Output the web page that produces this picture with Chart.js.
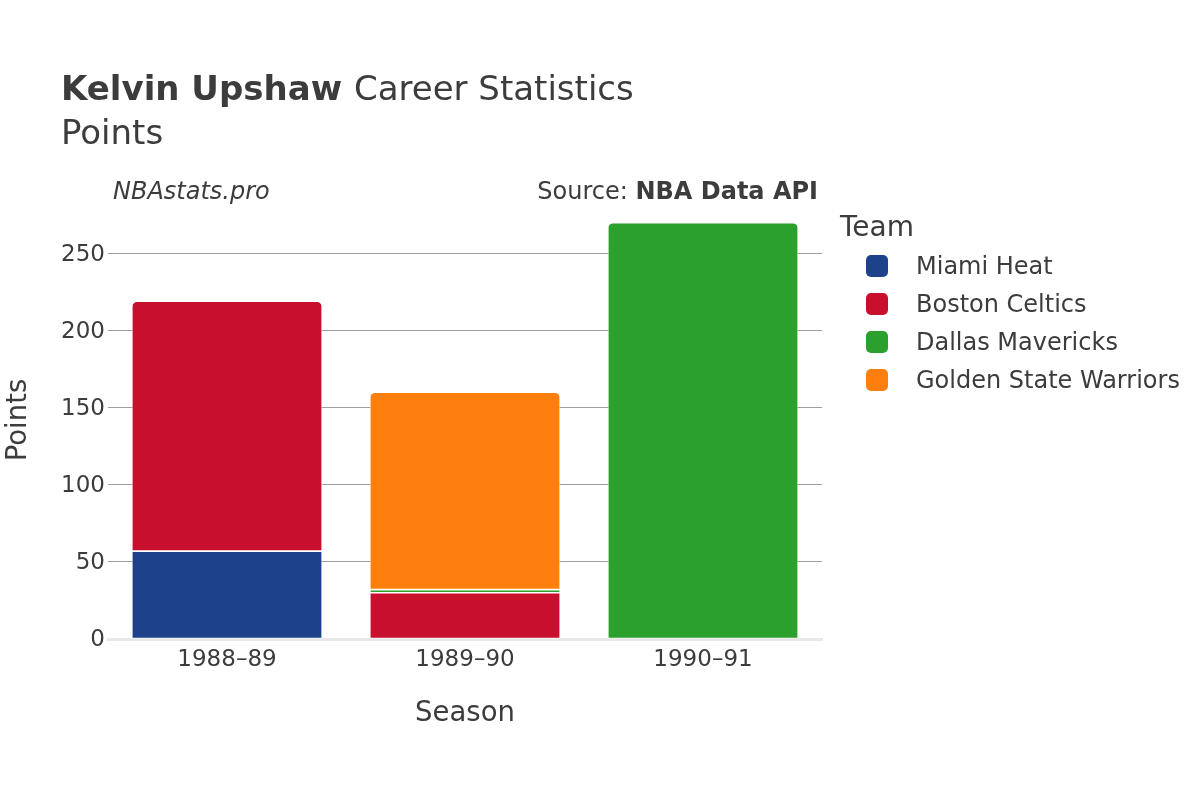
<!DOCTYPE html>
<html>
<head>
<meta charset="utf-8">
<script src="https://cdn.jsdelivr.net/npm/chart.js@4"></script>
<style>
html,body{margin:0;padding:0;background:#fff;}
#wrap{width:1200px;height:800px;position:relative;}
</style>
</head>
<body>
<div id="wrap"><canvas id="c" width="1200" height="800"></canvas></div>
<script>
const seasons = ["1988\u201389", "1989\u201390", "1990\u201391"];
const teams = ["Miami Heat", "Boston Celtics", "Dallas Mavericks", "Golden State Warriors"];
const miamiHeat = [57, null, null];
const bostonCeltics = [162, 30, null];
const dallasMavericks = [null, 2, 270];
const goldenStateWarriors = [null, 128, null];
const teamColors = ["#1d428a", "#c8102e", "#2ca02c", "#ff7f0e"];
const yTicks = [0, 50, 100, 150, 200, 250];
const yMax = 284;

const seriesValues = [miamiHeat, bostonCeltics, dallasMavericks, goldenStateWarriors];
const FONT = "'DejaVu Sans', sans-serif";
const TXT = "#3c3c3c";

function topDatasetIndex(i) {
  let top = -1;
  seriesValues.forEach((arr, d) => { if (arr[i] != null && arr[i] > 0) top = d; });
  return top;
}

const datasets = teams.map((t, d) => ({
  label: t,
  data: seriesValues[d],
  backgroundColor: teamColors[d],
  borderColor: "#ffffff",
  borderWidth: 0.8,
  borderSkipped: false,
  borderRadius: (ctx) => (topDatasetIndex(ctx.dataIndex) === d ? {topLeft: 5, topRight: 5, bottomLeft: 0, bottomRight: 0} : 0),
  categoryPercentage: 0.8,
  barPercentage: 1.0
}));

const textPlugin = {
  id: "texts",
  afterDraw(chart) {
    const c = chart.ctx;
    c.save();
    c.fillStyle = TXT;
    c.textBaseline = "alphabetic";
    c.textAlign = "left";
    // title
    c.font = "bold 34px " + FONT;
    c.fillText("Kelvin Upshaw", 61, 100);
    const w = c.measureText("Kelvin Upshaw ").width;
    c.font = "34px " + FONT;
    c.fillText("Career Statistics", 61 + w, 100);
    c.font = "34px " + FONT;
    c.fillText("Points", 61, 144);
    // annotations
    c.font = "italic 24px " + FONT;
    c.fillText("NBAstats.pro", 113, 199);
    c.textAlign = "right";
    c.font = "bold 24px " + FONT;
    const bw = c.measureText("NBA Data API").width;
    c.fillText("NBA Data API", 818, 199);
    c.font = "24px " + FONT;
    c.fillText("Source: ", 818 - bw, 199);
    // axis titles
    c.textAlign = "center";
    c.font = "27.5px " + FONT;
    c.fillText("Season", 465, 721);
    c.save();
    c.translate(26, 420);
    c.rotate(-Math.PI / 2);
    c.fillText("Points", 0, 0);
    c.restore();
    // legend
    c.textAlign = "left";
    c.font = "28px " + FONT;
    c.fillText("Team", 840, 236);
    c.font = "24px " + FONT;
    teams.forEach((t, i) => {
      const cy = 266 + i * 38;
      c.fillStyle = teamColors[i];
      c.beginPath();
      if (c.roundRect) c.roundRect(866, cy - 11, 22, 22, 5); else c.rect(866, cy - 11, 22, 22);
      c.fill();
      c.fillStyle = TXT;
      c.textBaseline = "middle";
      c.fillText(t, 916, cy + 2);
    });
    c.restore();
  }
};

new Chart(document.getElementById("c"), {
  type: "bar",
  data: { labels: seasons, datasets },
  plugins: [textPlugin],
  options: {
    responsive: false,
    animation: false,
    layout: { padding: { left: 0, right: 378, top: 201, bottom: 0 } },
    plugins: { legend: { display: false }, title: { display: false }, tooltip: { enabled: false } },
    scales: {
      x: {
        stacked: true,
        grid: { display: false, drawTicks: false },
        border: { display: true, color: "#e8e8e8", width: 3 },
        ticks: { color: TXT, font: { family: FONT, size: 23 }, padding: 7 },
        afterFit(s) { s.height = 161; }
      },
      y: {
        stacked: true,
        min: 0,
        max: yMax,
        afterBuildTicks(s) { s.ticks = yTicks.map(v => ({ value: v })); },
        grid: {
          drawTicks: false,
          color: (ctx) => (ctx.tick && ctx.tick.value === 0 ? "rgba(0,0,0,0)" : "#9e9e9e"),
          lineWidth: 1
        },
        border: { display: false },
        ticks: { color: TXT, font: { family: FONT, size: 23 }, padding: 3, labelOffset: 1.5 },
        afterFit(s) { s.width = 108; }
      }
    }
  }
});
</script>
</body>
</html>
